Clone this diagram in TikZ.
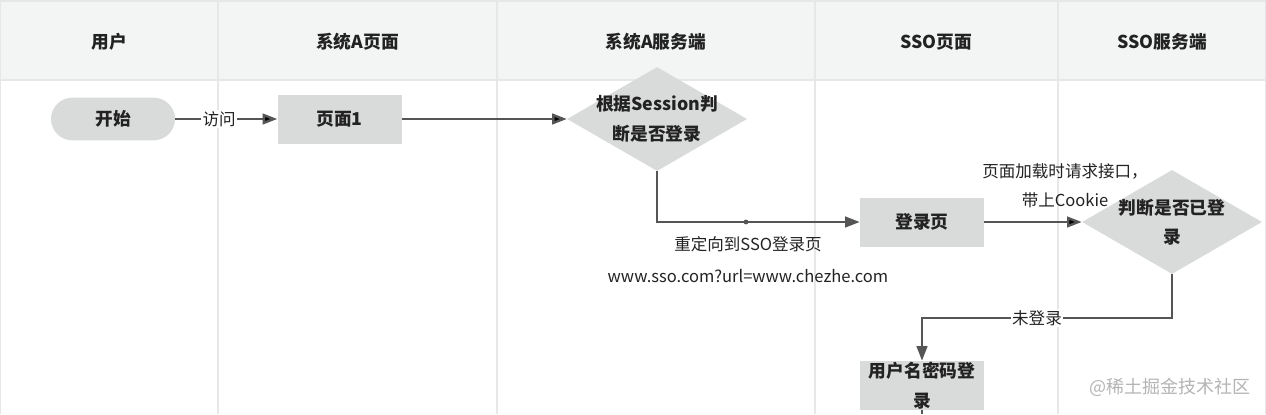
\documentclass[tikz,border=0pt]{standalone}
\usepackage{fontspec}
\setmainfont{Noto Sans CJK SC}
\usepackage{xcolor}
\usepackage{tikz}
\usetikzlibrary{positioning, shapes.geometric, arrows.meta}

\definecolor{headbg}{HTML}{F3F5F5}
\definecolor{laneline}{HTML}{E6E8E8}
\definecolor{boxgray}{HTML}{D9DADA}
\definecolor{linegray}{HTML}{555555}
\definecolor{textdark}{HTML}{222222}
\definecolor{markgray}{HTML}{B4B4B4}

\tikzset{
    boxtext/.style={font=\bfseries\fontsize{13.3}{22}\selectfont, text=textdark, align=center},
    edgetext/.style={font=\fontsize{12.4}{22}\selectfont, text=textdark, align=center},
    lanehead/.style={boxtext},
    terminal/.style={rectangle, rounded corners=16pt, fill=boxgray, minimum width=93pt, minimum height=32pt, boxtext},
    process/.style={rectangle, fill=boxgray, minimum width=93pt, minimum height=36.75pt, inner sep=0pt, boxtext},
    decision/.style={diamond, fill=boxgray, minimum width=135pt, minimum height=78pt, inner sep=0pt},
    flow/.style={draw=linegray, line width=1.8pt, -{Triangle[length=11pt,width=8pt]}}
}

\begin{document}
\begin{tikzpicture}[x=0.75pt, y=-0.75pt]
        \useasboundingbox (0,0) rectangle (1266,414);
%       lanes
        \fill[headbg] (0,1) rectangle (1266,80);
        \draw[laneline, line width=1pt] (0,1) -- (1266,1) (0,80) -- (1266,80)
            (0.5,1) -- (0.5,414) (218,1) -- (218,414) (497,1) -- (497,414)
            (815,1) -- (815,414) (1058,1) -- (1058,414) (1265.5,1) -- (1265.5,414);
        \node[lanehead] (user) at (109,42) {用户};
        \node[lanehead] (apage) at (357.5,42) {系统A页面};
        \node[lanehead] (aserver) at (656,42) {系统A服务端};
        \node[lanehead] (ssopage) at (936.5,42) {SSO页面};
        \node[lanehead] (ssoserver) at (1162,42) {SSO服务端};
%       steps
        \node[terminal] (start) at (113,119) {开始};
        \node[process, right=76.5pt of start] (page1) {页面1};
        \node[decision, right=123.75pt of page1,
              label={[boxtext]center:根据Session判\\断是否登录}] (check1) {};
        \node[process] (login) at (922,222) {登录页};
        \node[decision, label={[boxtext]center:判断是否已登\\录}] (check2) at (1172,222) {};
        \node[process] (pwd) at (922,385.5) {用户名密码登\\录};
        \coordinate (bend) at (746,222);
        \coordinate (stub) at (922,414);
%
        \path[flow]
        (start) edge node[edgetext, fill=white, inner sep=1pt, pos=0.43] {访问} (page1)
        (page1) edge (check1)
        (login) edge node[edgetext, xshift=24pt, yshift=27pt] {页面加载时请求接口，\\带上Cookie} (check2);
        \draw[flow] (check1.south) |- (login.west);
        \draw[flow] (check2.south) -- ++(0,44) -| node[edgetext, fill=white, inner sep=1pt, pos=0.25, xshift=-7.5pt] {未登录} (pwd.north);
        \draw[linegray, line width=1.8pt] (pwd.south) -- (stub);
        \fill[linegray] (bend) circle (1.8pt);
        \node[edgetext, font=\fontsize{12.4}{24}\selectfont] (redirect) at (748,260) {重定向到SSO登录页\\www.sso.com?url=www.chezhe.com};
        \node[font=\fontsize{13.5}{16}\selectfont, text=markgray] (mark) at (1170,387) {@稀土掘金技术社区};
\end{tikzpicture}
\end{document}
